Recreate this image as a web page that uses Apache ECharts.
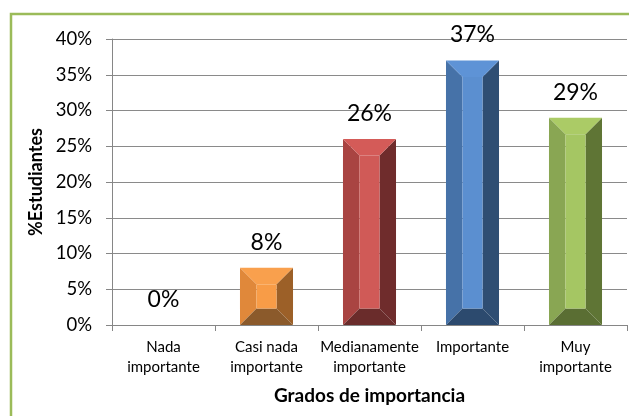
<!DOCTYPE html>
<html>
<head>
<meta charset="utf-8">
<script src="https://cdn.jsdelivr.net/npm/echarts@6/dist/echarts.min.js"></script>
<style>
  html, body { margin: 0; padding: 0; background: #fff; }
  #chart { width: 629px; height: 416px; }
</style>
</head>
<body>
<div id="chart"></div>
<script>
// datos
const categorias = ["Nada\nimportante", "Casi nada\nimportante", "Medianamente\nimportante", "Importante", "Muy\nimportante"];
const porcentajes = [0, 8, 26, 37, 29];
const yTicks = ["0%", "5%", "10%", "15%", "20%", "25%", "30%", "35%", "40%"];

// colores de cada barra: frente, izquierda, derecha, arriba, abajo
const paleta = [
  ["#5b8fd0", "#4672a8", "#2f4e73", "#5e93d6", "#2c4a6e"],
  ["#f89c47", "#e0883a", "#9c6028", "#f9a04d", "#8b5a2b"],
  ["#d05a57", "#a94442", "#6f2c2c", "#d45b58", "#6a2c2b"],
  ["#5b8fd0", "#4672a8", "#2f4e73", "#5e93d6", "#2c4a6e"],
  ["#a5c663", "#89a653", "#5f7535", "#abcb66", "#5a6e33"]
];

const fuente = "Lato, 'Open Sans', sans-serif";

const chart = echarts.init(document.getElementById("chart"));

// barra con bisel (tipo 3D de Excel)
const renderBisel = (params, api) => {
  const i = api.value(0);
  const v = api.value(1);
  if (!v) return null;
  const base = api.coord([i, 0]);
  const cima = api.coord([i, v]);
  const ancho = api.size([1, 0])[0] * 0.515;
  const L = base[0] - ancho / 2, R = base[0] + ancho / 2;
  const T = cima[1], B = base[1];
  const b = Math.min(16.5, (B - T) / 2, ancho / 2);
  const c = paleta[i];
  const poly = (pts, color) => ({
    type: "polygon",
    shape: { points: pts },
    style: { fill: color, stroke: null }
  });
  return {
    type: "group",
    children: [
      poly([[L, T], [L + b, T + b], [L + b, B - b], [L, B]], c[1]),
      poly([[R, T], [R, B], [R - b, B - b], [R - b, T + b]], c[2]),
      poly([[L, T], [R, T], [R - b, T + b], [L + b, T + b]], c[3]),
      poly([[L, B], [R, B], [R - b, B - b], [L + b, B - b]], c[4]),
      poly([[L + b, T + b], [R - b, T + b], [R - b, B - b], [L + b, B - b]], c[0])
    ]
  };
};

chart.setOption({
  animation: false,
  graphic: [
    {
      type: "rect",
      z: -10,
      shape: { x: 11, y: 14, width: 700, height: 500 },
      style: { fill: "none", stroke: "#9bbb59", lineWidth: 2.5 }
    }
  ],
  grid: { left: 112, top: 39, right: 2, bottom: 91 },
  xAxis: {
    type: "category",
    data: categorias,
    name: "Grados de importancia",
    nameLocation: "middle",
    nameGap: 61,
    nameTextStyle: { fontFamily: fuente, fontSize: 19, fontWeight: "bold", color: "#000" },
    axisLine: { lineStyle: { color: "#868686", width: 1 } },
    axisTick: { show: true, length: 6, lineStyle: { color: "#868686" } },
    axisLabel: {
      interval: 0,
      margin: 12,
      fontFamily: fuente,
      fontSize: 15,
      lineHeight: 20,
      color: "#000"
    }
  },
  yAxis: {
    type: "value",
    min: 0,
    max: 40,
    interval: 5,
    name: "%Estudiantes",
    nameLocation: "middle",
    nameGap: 66,
    nameTextStyle: { fontFamily: fuente, fontSize: 18, fontWeight: "bold", color: "#000" },
    axisLine: { show: true, lineStyle: { color: "#868686", width: 1 } },
    axisTick: { show: true, length: 6, lineStyle: { color: "#868686" } },
    splitLine: { lineStyle: { color: "#8a8a8a", width: 1.2 } },
    axisLabel: {
      margin: 20,
      fontFamily: fuente,
      fontSize: 18.5,
      color: "#000",
      formatter: (v) => yTicks[Math.round(v / 5)]
    }
  },
  series: [
    {
      type: "custom",
      renderItem: renderBisel,
      data: porcentajes.map((v, i) => [i, v]),
      encode: { x: 0, y: 1 },
      z: 3
    },
    {
      type: "bar",
      data: porcentajes,
      barWidth: "51.5%",
      itemStyle: { color: "transparent" },
      label: {
        show: true,
        position: "top",
        distance: 14,
        fontFamily: fuente,
        fontSize: 23,
        color: "#000",
        formatter: (p) => p.value + "%"
      },
      z: 4
    }
  ]
});
</script>
</body>
</html>
